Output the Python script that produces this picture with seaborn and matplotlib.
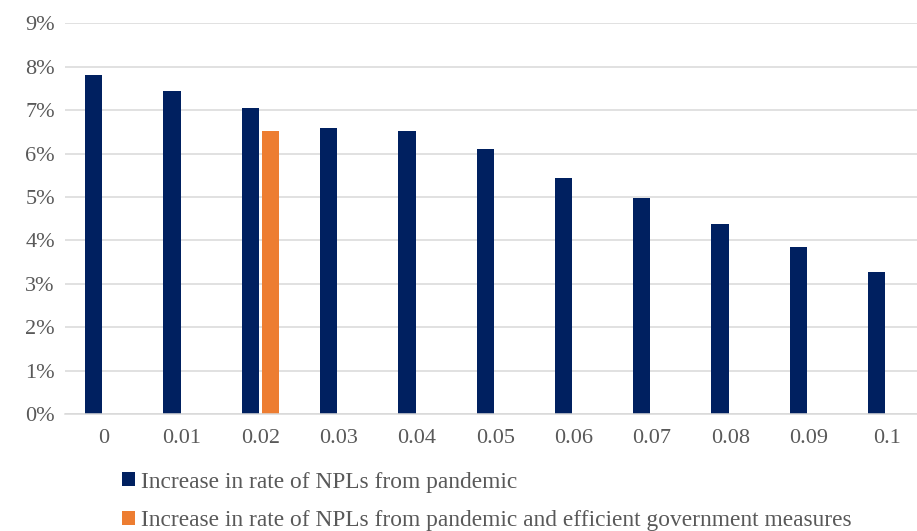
import matplotlib
matplotlib.use("Agg")
import matplotlib.pyplot as plt
from matplotlib.ticker import PercentFormatter, MultipleLocator
import pandas as pd
import seaborn as sns

# Category labels (shock size) and series values (share of loans, as fractions)
categories = ["0", "0.01", "0.02", "0.03", "0.04", "0.05", "0.06", "0.07", "0.08", "0.09", "0.1"]
pandemic = [0.078, 0.0744, 0.0706, 0.0660, 0.0651, 0.0610, 0.0543, 0.0497, 0.0438, 0.0384, 0.0327]
with_measures_categories = ["0.02"]
with_measures = [0.0651]

series_names = [
    "Increase in rate of NPLs from pandemic",
    "Increase in rate of NPLs from pandemic and efficient government measures",
]
series_colors = ["#002060", "#ED7D31"]

df = pd.concat([
    pd.DataFrame({"shock": categories, "rate": pandemic, "series": series_names[0]}),
    pd.DataFrame({"shock": with_measures_categories, "rate": with_measures, "series": series_names[1]}),
], ignore_index=True)

sns.set_theme(style="white")
plt.rcParams["font.family"] = ["Liberation Serif", "DejaVu Serif"]

fig = plt.figure(figsize=(9.17, 5.31), dpi=100)
ax = fig.add_axes([0.0705, 0.2203, 0.9394, 0.7357])

sns.barplot(
    data=df, x="shock", y="rate", hue="series",
    order=categories, hue_order=series_names,
    palette=series_colors, width=0.52, gap=0.15,
    linewidth=0, saturation=1, ax=ax, legend=True,
)

ax.set_ylim(0, 0.09)
ax.yaxis.set_major_locator(MultipleLocator(0.01))
ax.yaxis.set_major_formatter(PercentFormatter(1.0, decimals=0))
ax.set_xlim(-0.5, len(categories) - 0.5)
ax.grid(axis="y", color="#d9d9d9", linewidth=1.1)
ax.set_axisbelow(True)
for side in ["left", "right", "top"]:
    ax.spines[side].set_visible(False)
ax.spines["bottom"].set_color("#d9d9d9")
ax.spines["bottom"].set_linewidth(1.1)
ax.set_xlabel("")
ax.set_ylabel("")
ax.tick_params(axis="both", length=0, labelsize=16, labelcolor="#595959")
ax.tick_params(axis="x", pad=11)
ax.tick_params(axis="y", pad=7)

handles, labels = ax.get_legend_handles_labels()
ax.get_legend().remove()
fig.legend(
    handles, labels, loc="upper left", bbox_to_anchor=(0.133, 0.112),
    frameon=False, ncol=1, fontsize=16.8, labelcolor="#595959",
    handlelength=0.55, handleheight=0.55, handletextpad=0.25,
    labelspacing=0.74, borderaxespad=0, borderpad=0,
)

fig.savefig("out.png", dpi=100)
